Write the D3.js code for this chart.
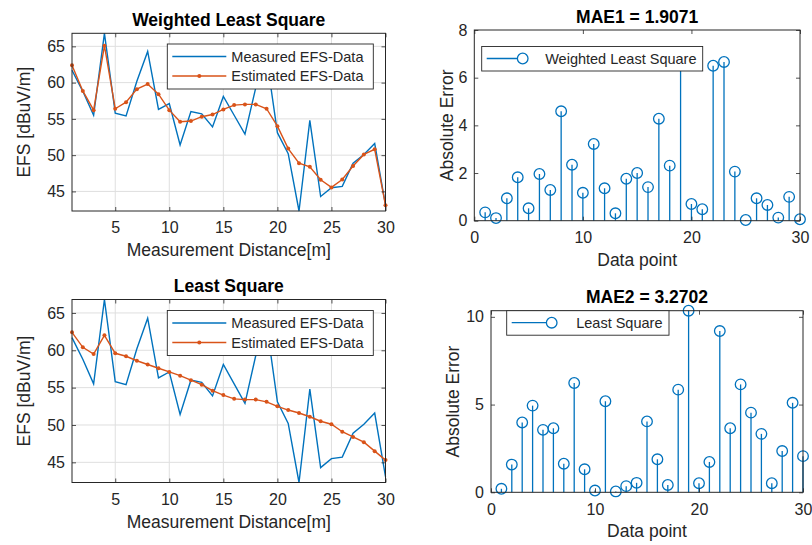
<!DOCTYPE html>
<html>
<head>
<meta charset="utf-8">
<script src="https://cdn.jsdelivr.net/npm/d3@7"></script>
<style>
  body { margin: 0; background: #fff; }
  text { font-family: 'Liberation Sans', Arial, Helvetica, sans-serif; fill: #262626; }
</style>
</head>
<body>
<div id="chart"></div>
<script>
// measurement points 1..30
const distance = [1, 2, 3, 4, 5, 6, 7, 8, 9, 10, 11, 12, 13, 14, 15, 16, 17, 18, 19, 20, 21, 22, 23, 24, 25, 26, 27, 28, 29, 30]

const measured = [61.7, 58.8, 55.5, 66.8, 55.8, 55.4, 60.2, 64.3, 56.3, 57.1, 51.4, 56.0, 55.7, 53.9, 58.1,
  55.5, 52.9, 59.3, 63.5, 53.1, 50.2, 42.3, 54.8, 44.3, 45.5, 45.7, 48.9, 50.1, 51.6, 43.1]

const wlsEstimate = [62.4, 58.85, 56.2, 65.1, 56.4, 57.3, 59.1, 59.8, 58.4, 56.2, 54.6, 54.7, 55.3, 55.6, 56.3,
  56.9, 57.0, 57.0, 56.4, 54.0, 50.9, 48.9, 48.4, 46.6, 45.55, 46.65, 48.5, 50.1, 50.8, 43.1]

const lsEstimate = [62.4, 60.4, 59.5, 62.0, 59.6, 59.2, 58.6, 58.1, 57.6, 57.1, 56.6, 56.0, 55.4, 54.6, 54.0,
  53.5, 53.4, 53.4, 53.1, 52.5, 52.0, 51.6, 51.1, 50.5, 50.1, 49.1, 48.4, 47.7, 46.5, 45.3]

const wlsError = [0.35, 0.11, 0.94, 1.82, 0.52, 1.96, 1.29, 4.59, 2.35, 1.17, 3.22, 1.36, 0.31, 1.76, 2.0,
  1.41, 4.28, 2.31, 6.9, 0.70, 0.48, 6.50, 6.66, 2.06, 0.03, 0.94, 0.66, 0.13, 1.0, 0.06]

const lsError = [0.2, 1.58, 3.98, 4.94, 3.56, 3.65, 1.63, 6.23, 1.31, 0.1, 5.19, 0.05, 0.35, 0.54, 4.04,
  1.88, 0.42, 5.85, 10.35, 0.52, 1.73, 9.19, 3.65, 6.15, 4.54, 3.33, 0.52, 2.35, 5.1, 2.06]

const lineXTicks = [5, 10, 15, 20, 25, 30]
const lineYTicks = [45, 50, 55, 60, 65]
const stemXTicks = [0, 10, 20, 30]
const mae1YTicks = [0, 2, 4, 6, 8]
const mae2YTicks = [0, 5, 10]

const blue = '#0072BD'
const orange = '#D95319'
const axisColor = '#262626'

const svg = d3
  .select('#chart')
  .append('svg')
  .attr('width', 812)
  .attr('height', 545)

function frame(g, box, x, y, xTicks, yTicks) {
  const h = box.bottom - box.top
  const w = box.right - box.left

  g.append('g')
    .attr('transform', `translate(0,${box.bottom})`)
    .call(d3.axisBottom(x).tickValues(xTicks).tickSize(-4).tickPadding(11).tickFormat(d3.format('d')))
    .call(a => a.select('.domain').remove())
  g.append('g')
    .attr('transform', `translate(0,${box.top})`)
    .call(d3.axisTop(x).tickValues(xTicks).tickSize(-4).tickFormat(''))
    .call(a => a.select('.domain').remove())
  g.append('g')
    .attr('transform', `translate(${box.left},0)`)
    .call(d3.axisLeft(y).tickValues(yTicks).tickSize(-4).tickPadding(7).tickFormat(d3.format('d')))
    .call(a => a.select('.domain').remove())
  g.append('g')
    .attr('transform', `translate(${box.right},0)`)
    .call(d3.axisRight(y).tickValues(yTicks).tickSize(-4).tickFormat(''))
    .call(a => a.select('.domain').remove())

  g.selectAll('.tick line').attr('stroke', axisColor).attr('stroke-width', 0.8)
  g.selectAll('.tick text')
    .attr('font-size', 16)
    .attr('font-family', "'Liberation Sans', Arial, sans-serif")
    .attr('fill', axisColor)

  g.append('rect')
    .attr('x', box.left)
    .attr('y', box.top)
    .attr('width', w)
    .attr('height', h)
    .attr('fill', 'none')
    .attr('stroke', axisColor)
    .attr('stroke-width', 1)
}

function labels(g, box, title, xlabel, ylabel, ylabelX) {
  g.append('text')
    .attr('x', (box.left + box.right) / 2)
    .attr('y', box.top - 7.5)
    .attr('text-anchor', 'middle')
    .attr('font-size', 17.5)
    .attr('font-weight', 'bold')
    .style('fill', '#000')
    .text(title)
  g.append('text')
    .attr('x', (box.left + box.right) / 2)
    .attr('y', box.bottom + 45)
    .attr('text-anchor', 'middle')
    .attr('font-size', 17.5)
    .text(xlabel)
  g.append('text')
    .attr('transform', `translate(${ylabelX},${(box.top + box.bottom) / 2}) rotate(-90)`)
    .attr('text-anchor', 'middle')
    .attr('dy', '0.35em')
    .attr('font-size', 17.5)
    .text(ylabel)
}

function drawLinePanel(box, title, estimate, legendBox) {
  const g = svg.append('g')
  const x = d3.scaleLinear().domain([1, 30]).range([box.left, box.right])
  const y = d3.scaleLinear().domain(d3.extent(measured)).range([box.bottom, box.top])

  // grid
  g.selectAll('.vgrid')
    .data(lineXTicks)
    .enter()
    .append('line')
    .attr('x1', d => x(d))
    .attr('x2', d => x(d))
    .attr('y1', box.top)
    .attr('y2', box.bottom)
    .attr('stroke', '#dfdfdf')
  g.selectAll('.hgrid')
    .data(lineYTicks)
    .enter()
    .append('line')
    .attr('x1', box.left)
    .attr('x2', box.right)
    .attr('y1', d => y(d))
    .attr('y2', d => y(d))
    .attr('stroke', '#dfdfdf')

  const line = d3.line().x((d, i) => x(distance[i])).y(d => y(d))

  g.append('path')
    .datum(measured)
    .attr('d', line)
    .attr('fill', 'none')
    .attr('stroke', blue)
    .attr('stroke-width', 1.4)

  g.append('path')
    .datum(estimate)
    .attr('d', line)
    .attr('fill', 'none')
    .attr('stroke', orange)
    .attr('stroke-width', 1.4)

  g.selectAll('.dot')
    .data(estimate)
    .enter()
    .append('circle')
    .attr('cx', (d, i) => x(distance[i]))
    .attr('cy', d => y(d))
    .attr('r', 2)
    .attr('fill', orange)

  frame(g, box, x, y, lineXTicks, lineYTicks)
  labels(g, box, title, 'Measurement Distance[m]', 'EFS [dBuV/m]', 24)

  // legend
  const lg = g.append('g')
  lg.append('rect')
    .attr('x', legendBox.x)
    .attr('y', legendBox.y)
    .attr('width', 206)
    .attr('height', 45)
    .attr('fill', '#fff')
    .attr('stroke', axisColor)
    .attr('stroke-width', 0.9)
  const items = [
    { name: 'Measured EFS-Data', color: blue, dot: false },
    { name: 'Estimated EFS-Data', color: orange, dot: true }
  ]
  items.forEach((it, i) => {
    const cy = legendBox.y + 12.5 + i * 19.5
    lg.append('line')
      .attr('x1', legendBox.x + 5)
      .attr('x2', legendBox.x + 59)
      .attr('y1', cy)
      .attr('y2', cy)
      .attr('stroke', it.color)
      .attr('stroke-width', 1.4)
    if (it.dot) {
      lg.append('circle')
        .attr('cx', legendBox.x + 32)
        .attr('cy', cy)
        .attr('r', 2)
        .attr('fill', it.color)
    }
    lg.append('text')
      .attr('x', legendBox.x + 64)
      .attr('y', cy)
      .attr('dy', '0.35em')
      .attr('font-size', 14.5)
      .text(it.name)
  })
}

function drawStemPanel(box, title, errors, yTicks, legend) {
  const g = svg.append('g')
  const x = d3.scaleLinear().domain([0, 30]).range([box.left, box.right])
  const y = d3.scaleLinear().domain([0, d3.max(yTicks.concat(errors))]).range([box.bottom, box.top])

  g.selectAll('.stem')
    .data(errors)
    .enter()
    .append('line')
    .attr('x1', (d, i) => x(distance[i]))
    .attr('x2', (d, i) => x(distance[i]))
    .attr('y1', y(0))
    .attr('y2', d => y(d))
    .attr('stroke', blue)
    .attr('stroke-width', 1.3)

  g.selectAll('.marker')
    .data(errors)
    .enter()
    .append('circle')
    .attr('cx', (d, i) => x(distance[i]))
    .attr('cy', d => y(d))
    .attr('r', 5.3)
    .attr('fill', 'none')
    .attr('stroke', blue)
    .attr('stroke-width', 1.3)

  frame(g, box, x, y, stemXTicks, yTicks)
  labels(g, box, title, 'Data point', 'Absolute Error', legend.ylabelX)

  const lg = g.append('g')
  lg.append('rect')
    .attr('x', legend.x)
    .attr('y', legend.y)
    .attr('width', legend.w)
    .attr('height', 24.5)
    .attr('fill', '#fff')
    .attr('stroke', axisColor)
    .attr('stroke-width', 0.9)
  const cy = legend.y + 12
  lg.append('line')
    .attr('x1', legend.x + 5)
    .attr('x2', legend.x + legend.lineLen)
    .attr('y1', cy)
    .attr('y2', cy)
    .attr('stroke', blue)
    .attr('stroke-width', 1.3)
  lg.append('circle')
    .attr('cx', legend.x + legend.lineLen)
    .attr('cy', cy)
    .attr('r', 5.3)
    .attr('fill', '#fff')
    .attr('stroke', blue)
    .attr('stroke-width', 1.3)
  lg.append('text')
    .attr('x', legend.x + legend.textX)
    .attr('y', cy)
    .attr('dy', '0.35em')
    .attr('font-size', 14.5)
    .text(legend.name)
}

drawLinePanel({ left: 72, right: 385.5, top: 33.3, bottom: 211 }, 'Weighted Least Square', wlsEstimate, { x: 167.3, y: 44 })
drawLinePanel({ left: 72, right: 385.5, top: 299.5, bottom: 482.5 }, 'Least Square', lsEstimate, { x: 167.3, y: 310.5 })

drawStemPanel({ left: 474.3, right: 800, top: 30, bottom: 220.7 }, 'MAE1 = 1.9071', wlsError, mae1YTicks,
  { x: 481.7, y: 46.5, w: 221, lineLen: 41, textX: 63.5, name: 'Weighted Least Square', ylabelX: 446.7 })
drawStemPanel({ left: 491, right: 803, top: 310.7, bottom: 492.3 }, 'MAE2 = 3.2702', lsError, mae2YTicks,
  { x: 506.7, y: 310.7, w: 162.3, lineLen: 45, textX: 69.5, name: 'Least Square', ylabelX: 452.5 })
</script>
</body>
</html>
